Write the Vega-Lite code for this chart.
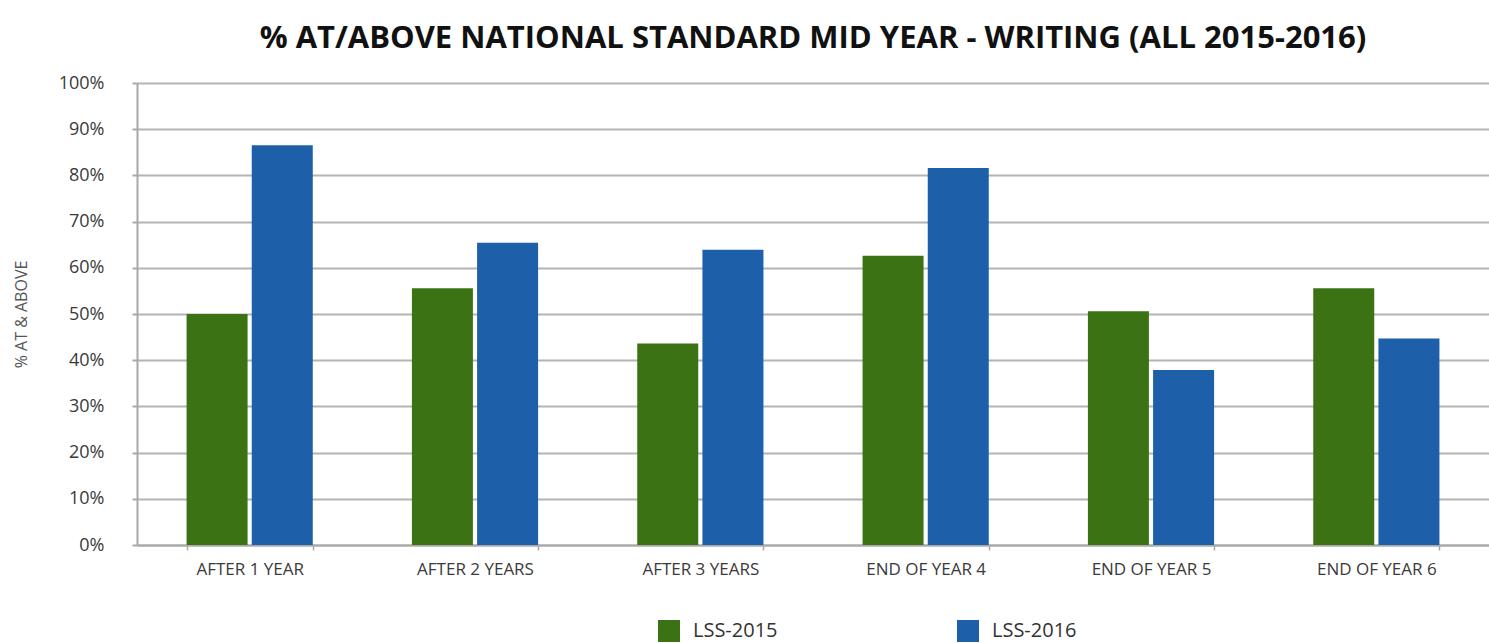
{
  "$schema": "https://vega.github.io/schema/vega-lite/v6.json",
  "autosize": {"type": "none"},
  "width": 1352,
  "height": 462,
  "padding": {"left": 137, "top": 83, "right": 0, "bottom": 98},
  "background": "white",
  "title": {
    "text": "% AT/ABOVE NATIONAL STANDARD MID YEAR - WRITING (ALL 2015-2016)",
    "font": "Open Sans",
    "fontSize": 31,
    "fontWeight": "bold",
    "color": "#111111",
    "anchor": "middle",
    "offset": 19
  },
  "data": {
    "values": [
      {"stage": "AFTER 1 YEAR", "series": "LSS-2015", "pct": 50},
      {"stage": "AFTER 1 YEAR", "series": "LSS-2016", "pct": 86.5},
      {"stage": "AFTER 2 YEARS", "series": "LSS-2015", "pct": 55.6},
      {"stage": "AFTER 2 YEARS", "series": "LSS-2016", "pct": 65.4},
      {"stage": "AFTER 3 YEARS", "series": "LSS-2015", "pct": 43.6},
      {"stage": "AFTER 3 YEARS", "series": "LSS-2016", "pct": 63.9},
      {"stage": "END OF YEAR 4", "series": "LSS-2015", "pct": 62.6},
      {"stage": "END OF YEAR 4", "series": "LSS-2016", "pct": 81.6},
      {"stage": "END OF YEAR 5", "series": "LSS-2015", "pct": 50.6},
      {"stage": "END OF YEAR 5", "series": "LSS-2016", "pct": 37.9},
      {"stage": "END OF YEAR 6", "series": "LSS-2015", "pct": 55.6},
      {"stage": "END OF YEAR 6", "series": "LSS-2016", "pct": 44.7}
    ]
  },
  "mark": {"type": "bar"},
  "encoding": {
    "x": {
      "field": "stage",
      "type": "nominal",
      "sort": null,
      "scale": {"paddingInner": 0.44, "paddingOuter": 0.22},
      "axis": {
        "title": null,
        "labelAngle": 0,
        "labelFont": "Open Sans",
        "labelFontSize": 17,
        "labelColor": "#3a3a3a",
        "labelPadding": 11,
        "tickBand": "extent",
        "tickSize": 5,
        "tickColor": "#a8a8a8",
        "tickWidth": 1.5,
        "domainColor": "#a8a8a8",
        "domainWidth": 2,
        "grid": false
      }
    },
    "xOffset": {
      "field": "series",
      "type": "nominal",
      "scale": {"paddingInner": 0.064, "paddingOuter": 0}
    },
    "y": {
      "field": "pct",
      "type": "quantitative",
      "scale": {"domain": [0, 100], "nice": false},
      "axis": {
        "title": "% AT & ABOVE",
        "titleFont": "Open Sans",
        "titleFontSize": 16,
        "titleFontWeight": "normal",
        "titleColor": "#555555",
        "titlePadding": 29,
        "values": [0, 10, 20, 30, 40, 50, 60, 70, 80, 90, 100],
        "labelExpr": "datum.value + '%'",
        "labelFont": "Open Sans",
        "labelFontSize": 18,
        "labelColor": "#3a3a3a",
        "labelPadding": 28,
        "tickSize": 5,
        "tickColor": "#a8a8a8",
        "tickWidth": 2,
        "domainColor": "#a8a8a8",
        "domainWidth": 2,
        "grid": true,
        "gridColor": "#b4b4b4",
        "gridWidth": 2
      }
    },
    "color": {
      "field": "series",
      "type": "nominal",
      "scale": {"domain": ["LSS-2015", "LSS-2016"], "range": ["#3b7314", "#1e5fa9"]},
      "legend": {
        "title": null,
        "orient": "none",
        "direction": "horizontal",
        "legendX": 521,
        "legendY": 537,
        "symbolType": "square",
        "symbolSize": 484,
        "symbolStrokeWidth": 0,
        "symbolOpacity": 1,
        "labelFont": "Open Sans",
        "labelFontSize": 20,
        "labelColor": "#333333",
        "labelOffset": 13,
        "columnPadding": 179,
        "padding": 0
      }
    }
  },
  "config": {"view": {"stroke": null}}
}
